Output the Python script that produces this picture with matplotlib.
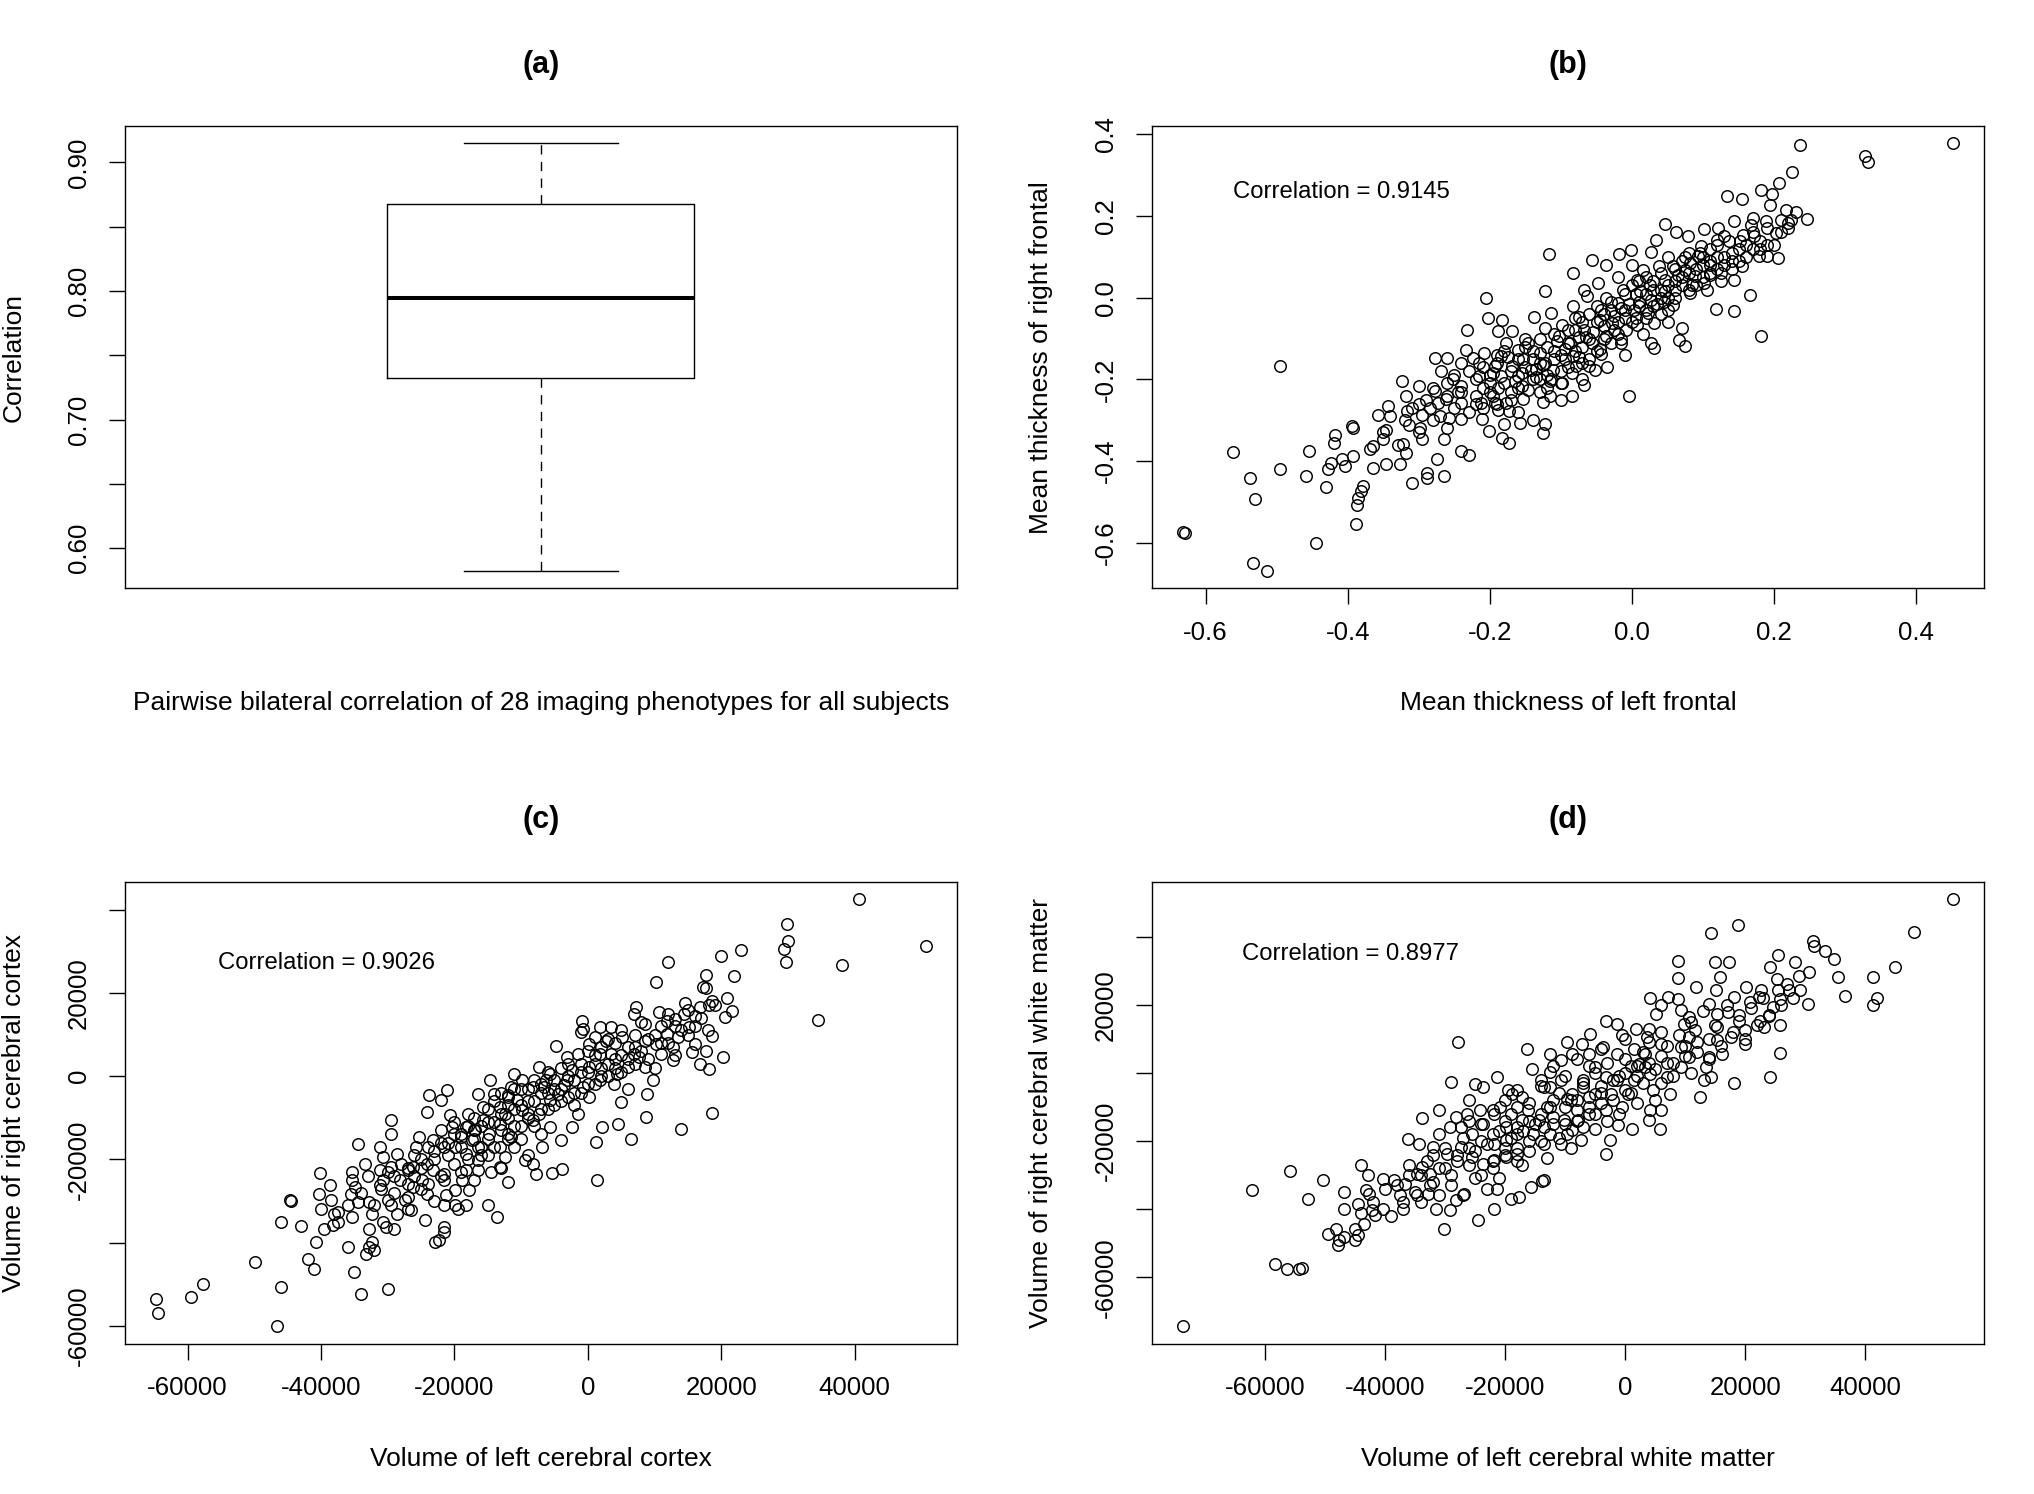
import matplotlib
matplotlib.use('Agg')
import matplotlib.pyplot as plt

plt.rcParams['font.family'] = ['Liberation Sans', 'DejaVu Sans']
plt.rcParams['axes.unicode_minus'] = False

# ---------------- data ----------------
# (a) boxplot summary of pairwise bilateral correlations
box_whislo = 0.5823
box_q1 = 0.7326
box_med = 0.7948
box_q3 = 0.8676
box_whishi = 0.9148
a_yticks = [0.60, 0.65, 0.70, 0.75, 0.80, 0.85, 0.90]
a_ylabels = ['0.60', '', '0.70', '', '0.80', '', '0.90']

# (b) mean thickness left vs right frontal  (x, y)
b_points = [
    (0.452,0.378),(0.236,0.374),(0.328,0.346),(0.332,0.333),(0.225,0.307),(0.207,0.280),(0.181,0.263),(0.197,0.254),(0.134,0.249),(0.154,0.241),
    (0.194,0.226),(0.217,0.215),(0.230,0.211),(0.246,0.192),(0.223,0.191),(0.220,0.183),(0.189,0.187),(0.170,0.195),(0.144,0.189),(0.203,0.158),
    (0.199,0.130),(0.205,0.097),(0.190,0.101),(0.178,0.101),(0.172,0.150),(0.152,0.138),(0.136,0.138),(0.046,0.181),(0.101,0.169),(0.078,0.150),
    (0.062,0.162),(0.119,0.142),(0.097,0.126),(0.034,0.142),(0.027,0.113),(0.154,0.077),(0.140,0.070),(0.125,0.060),(0.166,0.007),(0.118,-0.028),
    (0.182,-0.093),(0.143,-0.033),(0.101,0.036),(0.109,0.089),(0.082,0.085),(0.074,0.068),(-0.117,0.108),(-0.057,0.093),(-0.083,0.060),(-0.018,0.108),
    (-0.001,0.117),(-0.036,0.081),(-0.205,-0.001),(-0.122,0.016),(-0.232,-0.078),(-0.495,-0.166),(-0.561,-0.378),(-0.538,-0.442),(-0.530,-0.494),(-0.496,-0.420),
    (-0.455,-0.376),(-0.459,-0.437),(-0.430,-0.463),(-0.445,-0.600),(-0.632,-0.574),(-0.629,-0.576),(-0.534,-0.649),(-0.514,-0.669),(-0.389,-0.555),(-0.387,-0.508),
    (-0.385,-0.490),(-0.382,-0.473),(-0.379,-0.461),(-0.310,-0.453),(-0.289,-0.441),(-0.288,-0.429),(-0.265,-0.437),(-0.275,-0.396),(-0.230,-0.384),(-0.240,-0.376),
    (-0.005,-0.240),(-0.085,-0.241),(-0.125,-0.256),(-0.158,-0.306),(-0.122,-0.310),(-0.125,-0.331),(-0.173,-0.355),(-0.183,-0.343),(-0.201,-0.327),(-0.265,-0.347),
    (-0.295,-0.347),(-0.318,-0.380),(-0.322,-0.359),(-0.346,-0.408),(-0.365,-0.416),(-0.326,-0.408),(-0.404,-0.412),(-0.408,-0.396),(-0.393,-0.388),(-0.428,-0.420),
    (-0.424,-0.404),(-0.420,-0.355),(-0.418,-0.335),(-0.393,-0.319),(-0.394,-0.315),(-0.369,-0.371),(-0.365,-0.363),(-0.350,-0.347),(-0.346,-0.323),(-0.357,-0.286),
    (-0.344,-0.266),(-0.324,-0.204),(-0.300,-0.217),(-0.318,-0.241),(-0.316,-0.278),(-0.314,-0.311),(-0.299,-0.319),(-0.295,-0.286),(-0.277,-0.229),(-0.262,-0.249),
    (-0.273,-0.257),(-0.277,-0.147),(-0.261,-0.147),(-0.269,-0.180),(-0.252,-0.200),(-0.240,-0.217),(-0.240,-0.257),(-0.240,-0.298),(-0.257,-0.294),(-0.234,-0.127),
    (-0.224,-0.147),(-0.208,-0.135),(-0.216,-0.192),(-0.212,-0.257),(-0.211,-0.298),(-0.193,-0.257),(-0.189,-0.274),(-0.177,-0.257),(-0.173,-0.278),(-0.154,-0.249),
    (-0.146,-0.225),(-0.189,-0.221),(-0.185,-0.192),(-0.193,-0.168),(-0.169,-0.168),(-0.161,-0.192),(-0.203,-0.050),(-0.183,-0.055),(-0.189,-0.082),(-0.169,-0.082),
    (-0.177,-0.111),(-0.185,-0.143),(-0.161,-0.127),(-0.154,-0.151),(-0.142,-0.176),(-0.130,-0.200),(-0.114,-0.200),(-0.099,-0.208),(-0.111,-0.176),(-0.122,-0.160),
    (-0.130,-0.135),(-0.146,-0.111),(-0.138,-0.046),(-0.114,-0.037),(-0.122,-0.074),(-0.103,-0.094),(-0.099,-0.066),(-0.087,-0.111),(-0.083,-0.143),(-0.079,-0.168),
    (-0.060,-0.168),(-0.067,-0.213),(-0.052,-0.176),(-0.044,-0.139),(-0.056,-0.111),(-0.067,-0.078),(-0.075,-0.046),(-0.083,-0.021),(-0.063,0.003),(-0.067,0.020),
    (-0.048,0.036),(-0.036,-0.001),(-0.044,-0.029),(-0.028,-0.062),(-0.036,-0.094),(-0.016,-0.111),(-0.009,-0.078),(0.007,-0.066),(0.003,-0.029),(-0.020,-0.013),
    (-0.013,0.020),(0.007,0.044),(0.015,0.069),(0.011,0.016),(0.027,-0.005),(0.023,-0.037),(0.031,-0.062),(0.027,-0.111),(0.031,-0.123),(0.066,-0.103),
    (0.070,-0.074),(0.074,-0.119),(0.058,-0.017),(0.046,0.016),(0.046,0.044),(0.038,0.077),(0.058,0.077),(0.070,0.032),(0.082,0.011),(0.089,0.052),
    (0.093,0.101),(0.109,0.056),(0.125,0.040),(0.105,0.020),(0.144,0.044),(0.121,0.170),(0.168,0.179),(0.156,0.154),
    (-0.150,-0.120),(-0.140,-0.150),(-0.110,-0.130),(-0.090,-0.080),(-0.070,-0.120),(-0.050,-0.060),(-0.030,-0.030),(-0.010,-0.050),(0.010,-0.010),(0.030,0.020),
    (0.050,0.000),(-0.060,-0.150),(-0.100,-0.180),(-0.120,-0.220),(-0.170,-0.230),(-0.200,-0.210),(-0.220,-0.240),(-0.250,-0.270),(-0.280,-0.300),(-0.300,-0.260),
    (-0.160,-0.280),(-0.130,-0.100),(-0.080,-0.050),(-0.040,-0.100),(0.020,0.050),(0.060,0.040),(0.080,0.060),(0.100,0.080),(0.120,0.100),(0.140,0.110),
    (0.160,0.130),(0.180,0.140),(0.110,0.060),(0.130,0.080),(0.050,0.100),(0.000,0.080),(-0.020,0.050),(0.040,-0.040),(-0.190,-0.140),(-0.230,-0.180),
    (-0.260,-0.210),(-0.210,-0.270),(-0.180,-0.310),(-0.140,-0.300),(-0.100,-0.250),(-0.070,-0.200),(-0.035,-0.170),(-0.010,-0.140),(0.015,-0.090),(0.050,-0.060),
    (-0.155,-0.185),(-0.125,-0.165),(-0.095,-0.150),(-0.105,-0.105),(-0.075,-0.095),(-0.055,-0.085),(-0.025,-0.080),(-0.005,-0.015),(0.020,-0.030),(0.040,0.000),
    (0.060,0.020),(0.085,0.030),(0.095,0.110),(0.075,0.100),(0.150,0.090),(0.170,0.120),(0.210,0.160),(0.190,0.130),(-0.215,-0.160),(-0.195,-0.240),
    (-0.165,-0.205),(-0.135,-0.195),(-0.115,-0.240),(-0.085,-0.185),(-0.045,-0.125),(-0.015,-0.100),(0.005,-0.050),(0.035,-0.015),(-0.285,-0.270),(-0.245,-0.230),
    (-0.32,-0.30),(-0.31,-0.27),(-0.29,-0.25),(-0.27,-0.29),(-0.26,-0.24),(-0.25,-0.19),(-0.24,-0.23),(-0.23,-0.28),(-0.22,-0.20),(-0.21,-0.17),
    (-0.20,-0.23),(-0.20,-0.19),(-0.19,-0.16),(-0.19,-0.26),(-0.18,-0.21),(-0.18,-0.13),(-0.17,-0.18),(-0.17,-0.25),(-0.16,-0.15),(-0.16,-0.22),
    (-0.15,-0.17),(-0.15,-0.10),(-0.14,-0.20),(-0.14,-0.13),(-0.13,-0.16),(-0.13,-0.23),(-0.12,-0.12),(-0.12,-0.19),(-0.11,-0.15),(-0.11,-0.09),
    (-0.10,-0.14),(-0.10,-0.21),(-0.09,-0.11),(-0.09,-0.17),(-0.08,-0.08),(-0.08,-0.13),(-0.07,-0.16),(-0.07,-0.06),(-0.06,-0.10),(-0.06,-0.04),
    (-0.05,-0.13),(-0.05,-0.02),(-0.04,-0.07),(-0.04,-0.04),(-0.03,-0.11),(-0.03,-0.01),(-0.02,-0.06),(-0.02,-0.09),(-0.01,-0.03),(-0.01,0.01),
    (0.00,-0.06),(0.00,0.03),(0.01,-0.02),(0.01,0.04),(0.02,0.01),(0.02,-0.05),(0.03,0.04),(0.03,-0.02),(0.04,0.06),(0.04,0.02),
    (0.05,0.03),(0.05,-0.03),(0.06,0.07),(0.06,0.00),(0.07,0.05),(0.07,0.09),(0.08,0.02),(0.08,0.11),(0.09,0.07),(0.09,0.03),
    (0.10,0.10),(0.10,0.05),(0.11,0.12),(0.11,0.08),(0.12,0.07),(0.12,0.13),(0.13,0.10),(0.13,0.15),(0.14,0.09),(0.15,0.12),
    (0.16,0.10),(0.17,0.16),(0.18,0.12),(0.19,0.17),(0.21,0.19),(0.22,0.17),(-0.35,-0.33),(-0.34,-0.29),(-0.33,-0.36),(-0.30,-0.33),
    (-0.28,-0.22),(-0.26,-0.32),(-0.24,-0.16),(-0.22,-0.26),(-0.21,-0.22),(-0.195,-0.185),(-0.175,-0.145),(-0.155,-0.215),(-0.135,-0.175),(-0.115,-0.205),
    (-0.095,-0.125),(-0.075,-0.145),(-0.065,-0.095),(-0.045,-0.055),(-0.025,-0.045),(-0.015,-0.025),(0.005,0.010),(0.025,0.030),(0.045,-0.010),(0.065,0.055),
]
b_xticks = [-0.6, -0.4, -0.2, 0.0, 0.2, 0.4]
b_xlabels = ['-0.6', '-0.4', '-0.2', '0.0', '0.2', '0.4']
b_yticks = [-0.6, -0.4, -0.2, 0.0, 0.2, 0.4]
b_ylabels = ['-0.6', '-0.4', '-0.2', '0.0', '0.2', '0.4']

# (c) volume of left vs right cerebral cortex (x, y)
c_points = [
    (40660,42560),(29810,36560),(30060,32560),(29390,30560),(29640,27360),(50680,31200),(38160,26720),(34570,13520),(22960,30400),(19960,28960),
    (12020,27360),(17700,24320),(21880,24000),(10190,22560),(17280,21520),(17700,21200),(20880,18800),(18540,18160),(18120,17200),(21630,15760),
    (14610,17520),(16870,16560),(16030,14560),(20620,14160),(7260,16560),(10600,15360),(6850,14960),(13110,13760),(11860,13360),(14360,14960),
    (-840,13200),(1840,11760),(18540,9760),(16030,7760),(17700,6160),(20210,4560),(16870,2960),(18120,1760),(15610,5760),(12690,3760),
    (12690,6960),(10190,7760),(9770,-1040),(8930,-4240),(8770,-9840),(18540,-8880),(13940,-12640),(6430,-15040),(4510,-11440),(2090,-12240),
    (1250,-15840),(1420,-25040),(5010,-6240),(3920,-1840),(6010,2160),(7680,4560),(8520,8560),(5180,9360),(2670,8560),(170,7760),
    (-1090,10560),(-4840,7360),(-3170,4560),(-7350,2160),(-2340,1360),(170,2160),(-670,-2640),(1840,-1040),(170,-5040),(-1500,-9040),
    (-2340,-12240),(-4010,-15440),(-3840,-22240),(-5430,-23280),(-6930,-17040),(-8180,-21040),(-7770,-23440),(-9440,-20240),(-5680,-12240),(-7350,-9040),
    (-9850,-8240),(-9850,-1040),(-11110,560),(-8180,-2640),(-6260,-1040),(-4430,-4240),(-5680,-5840),(-11940,-4640),(-12360,-9040),(-13190,-11440),
    (-11940,-13840),(-12360,-19440),(-13190,-21840),(-11940,-25440),(-13610,-33840),(-15030,-31040),(-14450,-23040),(-14610,-1040),(-16530,-4240),(-15700,-7440),
    (-15700,-10640),(-16950,-13040),(-16530,-17040),(-16530,-20240),(-18200,-22640),(-18870,-25040),(-17790,-27440),(-18200,-31040),(-19870,-31040),(-19460,-31840),
    (-21540,-31040),(-21290,-28640),(-21540,-36240),(-21540,-37440),(-22380,-39440),(-22960,-39840),(-24470,-34640),(-21130,-3440),(-23800,-4480),(-21960,-5840),
    (-24050,-8640),(-20710,-9440),(-20290,-12240),(-19040,-14640),(-17370,-15440),(-21540,-17040),(-23210,-15440),(-25300,-14640),(-25720,-17040),(-24050,-21040),
    (-23210,-22640),(-21540,-23440),(-24880,-25040),(-24050,-28240),(-26140,-26640),(-28220,-25040),(-26970,-22640),(-28640,-18640),(-29480,-10640),(-29480,-13840),
    (-31150,-17040),(-30730,-19440),(-29480,-21840),(-31150,-22640),(-30730,-25040),(-31150,-26240),(-29890,-29840),(-29480,-31040),(-28640,-33040),(-26970,-31840),
    (-27390,-29840),(-26550,-32240),(-30730,-35040),(-30310,-36240),(-29060,-36640),(-32400,-39840),(-32820,-36640),(-32820,-41040),(-33230,-42640),(-31980,-41840),
    (-34070,-52240),(-29890,-51040),(-35070,-47040),(-35990,-41040),(-34490,-16240),(-33400,-21040),(-35320,-23040),(-35320,-25040),(-34900,-26640),(-35570,-28240),
    (-34490,-30240),(-32820,-30240),(-32400,-33040),(-35320,-33840),(-37410,-32640),(-37410,-35040),(-38240,-35840),(-39500,-36640),(-40080,-23280),(-38660,-26240),
    (-40330,-28240),(-38490,-29840),(-44670,-29840),(-44510,-30000),(-45930,-35040),(-43000,-36080),(-40750,-39840),(-42000,-43840),(-41000,-46240),(-49930,-44640),
    (-45930,-50640),(-46590,-60080),(-57620,-50000),(-59540,-53040),(-64800,-53440),(-64380,-56880),(-670,11360),(1000,9360),(-5680,560),(-3590,-2240),
    (-6510,-2640),(-11520,-2640),(-14030,-4240),(-13190,-7440),(-10690,-5840),(-9020,-9040),(-14860,-13840),(-18200,-12240),(-19870,-17040),(-18200,-18640),
    (-13190,-17040),(-11520,-14640),(3500,5360),(6850,5360),(8520,2160),(11020,5360),(13530,9360),(15200,11760),(11860,10160),(8520,12560),
    (3500,11760),(4340,560),(1840,5360),(-1500,5360),(-3170,-1040),(-8180,-10640),(-16530,-22640),(-26140,-21840),(-21540,-25040),(-19870,-27440),
    (-9000,-6000),(-7000,-4000),(-5000,-3000),(-3000,0),(-1000,1000),(1000,3000),(3000,3000),(5000,5000),(7000,7000),(9000,9000),
    (-11000,-8000),(-13000,-9000),(-15000,-11000),(-17000,-13000),(-19000,-14000),(-21000,-16000),(-23000,-18000),(-25000,-20000),(-27000,-22000),(-29000,-24000),
    (-10000,-12000),(-12000,-15000),(-14000,-17000),(-16000,-19000),(-6000,-8000),(-4000,-6000),(-2000,-4000),(0,-2000),(2000,0),(4000,2000),
    (6000,4000),(11000,8000),(13000,12000),(15000,10000),(-8000,-1000),(-10000,-3000),(-12000,-5000),(-18000,-9000),(-20000,-11000),(-22000,-13000),
    (-34000,-28000),(-33000,-24000),(-32000,-31000),(-31000,-27000),(-30000,-23000),(-29000,-28000),(-28000,-21000),(-27000,-26000),(-26000,-19000),(-26000,-24000),
    (-25000,-22000),(-24000,-17000),(-24000,-26000),(-23000,-20000),(-22000,-16000),(-22000,-24000),(-21000,-19000),(-20000,-14000),(-20000,-21000),(-19000,-17000),
    (-18000,-12000),(-18000,-20000),(-17000,-15000),(-17000,-10000),(-16000,-17000),(-16000,-12000),(-15000,-8000),(-15000,-15000),(-14000,-11000),(-14000,-6000),
    (-13000,-13000),(-13000,-4000),(-12000,-10000),(-12000,-7000),(-11000,-12000),(-11000,-3000),(-10000,-7000),(-10000,-15000),(-9000,-10000),(-9000,-3000),
    (-8000,-6000),(-8000,-12000),(-7000,-2000),(-7000,-8000),(-6000,-4000),(-6000,1000),(-5000,-7000),(-5000,-1000),(-4000,-3000),(-4000,2000),
    (-3000,-5000),(-3000,3000),(-2000,-1000),(-2000,-7000),(-1000,3000),(-1000,-4000),(0,1000),(0,6000),(1000,-2000),(1000,5000),
    (2000,2000),(2000,7000),(3000,0),(3000,9000),(4000,4000),(4000,8000),(5000,1000),(5000,11000),(6000,7000),(6000,-3000),
    (7000,10000),(7000,3000),(8000,6000),(8000,13000),(9000,4000),(10000,10000),(10000,2000),(11000,12000),(12000,8000),(12000,15000),
    (13000,5000),(14000,11000),(15000,16000),(16000,12000),(17000,14000),(18000,11000),(19000,17000),(-36000,-31000),(-38000,-33000),(-40000,-32000),
    (-27000,-29000),(-25000,-27000),(-23000,-30000),(-19000,-23000),(-17000,-25000),(-15000,-19000),(-13000,-22000),(-11000,-17000),(-9000,-19000),(-7000,-14000),
]
c_xticks = [-60000, -40000, -20000, 0, 20000, 40000]
c_xlabels = ['-60000', '-40000', '-20000', '0', '20000', '40000']
c_yticks = [-60000, -40000, -20000, 0, 20000, 40000]
c_ylabels = ['-60000', '', '-20000', '0', '20000', '']

# (d) volume of left vs right cerebral white matter (x, y)
d_points = [
    (54630,51050),(48150,41270),(18710,43520),(14350,40980),(31210,38830),(31480,37360),(33340,35890),(34730,33450),(44910,31000),(41210,28070),
    (35470,28070),(36580,22400),(41950,22010),(41210,19760),(25470,34720),(24080,31200),(28240,32470),(30560,29540),(25280,27580),(28980,28360),
    (29170,24160),(27320,24160),(25470,24160),(30370,20050),(25740,21710),(24540,19270),(23890,16820),(25740,13890),(22500,15350),(23150,13400),
    (25740,5770),(24080,-1270),(18060,-2930),(8800,32960),(15000,32470),(17320,32470),(8800,27870),(15740,28070),(11760,25130),(20190,25130),
    (22690,24160),(22220,22200),(20840,20730),(15090,24160),(18060,22200),(4170,21910),(7130,22200),(8800,21710),(6020,19760),(5090,17310),
    (9260,18290),(10650,16330),(13890,20240),(15280,17310),(17130,17800),(19000,15350),(19920,12420),(17590,10470),(19920,8510),(15280,9490),
    (11580,12420),(16200,5570),(13890,4600),(13430,1660),(12500,-7140),(14350,-1270),(13060,-2250),(9260,1660),(10650,4600),(9260,7530),
    (6020,8510),(3700,10470),(1850,12910),(-460,10960),(-3240,15350),(-1390,14380),(-5830,11440),(-9720,8990),(-7130,8510),(-3700,7530),
    (1390,7040),(3240,5570),(2320,2640),(4170,-290),(6950,-1270),(7410,-6160),(4630,-5180),(4170,-11050),(6020,-11050),(3890,-13980),
    (5830,-16430),(1200,-16430),(-1200,-15450),(-2500,-19850),(-3240,-23770),(-5090,-16430),(-7410,-19850),(-8800,-16720),(-10190,-13980),(-7870,-13980),
    (-6020,-12030),(-3240,-11050),(-460,-10070),(460,-6160),(-1390,-2250),(-3240,-1270),(-5090,1660),(-6950,-2250),(-8800,-6160),(-10650,-2250),
    (-12500,200),(-13430,-4200),(-15460,1170),(-16390,7040),(-12500,5570),(-10650,3620),(-8800,5570),(-9720,-7630),(-12500,-10070),(-14350,-13980),
    (-12500,-17900),(-10650,-20830),(-13430,-20830),(-15280,-17900),(-17130,-13980),(-18060,-10070),(-19450,-5180),(-18800,-6160),(-21300,-1270),(-23610,-4200),
    (-25000,-3230),(-25930,-8120),(-24080,-11050),(-21760,-12030),(-19910,-15940),(-18060,-17900),(-19910,-19850),(-21760,-20830),(-25470,-17900),(-27320,-15940),
    (-27780,8990),(-28980,-2740),(-28240,-13010),(-29170,-15940),(-31020,-17900),(-33800,-13200),(-31020,-11050),(-36110,-19360),(-34260,-20830),(-31950,-21810),
    (-29630,-23770),(-27320,-21810),(-25470,-24740),(-23610,-26700),(-21760,-25720),(-19910,-24740),(-18060,-23770),(-17130,-27190),(-21300,-34030),(-18990,-36970),
    (-17590,-36480),(-21760,-39900),(-24540,-43320),(-13890,-31780),(-13430,-31590),(-15740,-33550),(-26850,-35500),(-28240,-37460),(-29170,-40390),(-30090,-45770),
    (-31480,-39900),(-32870,-35500),(-32410,-33060),(-32410,-29640),(-33800,-27680),(-34730,-29640),(-37040,-37950),(-37500,-35990),(-36580,-32570),(-34730,-35990),
    (-38430,-31590),(-40280,-31100),(-42590,-35500),(-43060,-34520),(-42780,-30130),(-43980,-27190),(-40280,-39900),(-41670,-41860),(-43520,-44300),(-44450,-47730),
    (-44910,-49000),(-46760,-48210),(-47690,-49190),(-47870,-50660),(-49540,-47240),(-48150,-45770),(-46760,-39900),(-46760,-35010),(-50280,-31590),(-52780,-36970),
    (-55840,-28950),(-62040,-34520),(-58340,-56240),(-56210,-57510),(-54360,-57510),(-53710,-57220),(-73620,-74430),(-44910,-45770),(-44450,-38440),(-42130,-40390),
    (-6950,-4200),(-5090,-6160),(-2320,-6160),(1390,-2250),(3240,1660),(-1390,5570),(-6020,5570),(-17130,-7140),(-20840,-10070),(-16210,-11050),
    (-13430,-15940),(-9720,-17900),(-23610,-14960),(-26390,-12030),(-12500,-4200),(10650,10470),(15280,13400),(9720,14380),
    (-8000,-8000),(-6000,-10000),(-4000,-4000),(-2000,-2000),(0,0),(2000,-1000),(4000,3000),(6000,5000),(8000,3000),(10000,8000),
    (-10000,-10000),(-12000,-8000),(-14000,-12000),(-16000,-14000),(-18000,-16000),(-20000,-14000),(-22000,-18000),(-24000,-20000),(-26000,-22000),(-28000,-26000),
    (-12000,-15000),(-16000,-20000),(-20000,-22000),(-8000,-14000),(-4000,-9000),(0,-5000),(2000,2000),(6000,-3000),(12000,6000),(14000,10000),
    (-30000,-28000),(-32000,-24000),(-34000,-30000),(-36000,-27000),(-24000,-30000),(-22000,-26000),(-18000,-22000),(-14000,-4000),(-10000,-1000),(-6000,2000),
    (-38000,-33000),(-36000,-30000),(-35000,-35000),(-33000,-26000),(-32000,-32000),(-31000,-28000),(-30000,-22000),(-29000,-30000),(-28000,-24000),(-27000,-19000),
    (-26000,-27000),(-25000,-23000),(-24000,-15000),(-23000,-21000),(-22000,-28000),(-21000,-17000),(-20000,-24000),(-19000,-12000),(-19000,-19000),(-18000,-26000),
    (-17000,-17000),(-16000,-9000),(-16000,-23000),(-15000,-15000),(-14000,-20000),(-13000,-10000),(-13000,-25000),(-12000,-13000),(-11000,-6000),(-11000,-19000),
    (-10000,-15000),(-9000,-8000),(-9000,-22000),(-8000,-11000),(-7000,-3000),(-7000,-16000),(-6000,-7000),(-5000,-12000),(-5000,0),(-4000,-6000),
    (-3000,-14000),(-3000,3000),(-2000,-8000),(-1000,-1000),(-1000,-12000),(0,4000),(1000,-6000),(1000,2000),(2000,-9000),(3000,6000),
    (3000,-3000),(4000,9000),(5000,1000),(5000,-8000),(6000,12000),(7000,3000),(7000,8000),(8000,-1000),(9000,11000),(10000,5000),
    (11000,15000),(11000,0),(12000,9000),(13000,18000),(14000,4000),(15000,14000),(16000,8000),(17000,20000),(18000,12000),(19000,17000),
    (20000,10000),(21000,19000),(22000,14000),(23000,22000),(24000,17000),(26000,20000),(27000,26000),(28000,22000),(-42000,-38000),(-40000,-34000),
    (-44000,-41000),(-39000,-42000),(-37000,-40000),(-34000,-38000),(-31000,-36000),(-29000,-33000),(-27000,-36000),(-25000,-31000),(-23000,-34000),(-21000,-31000),
    (-20000,-8000),(-18000,-5000),(-22000,-11000),(-26000,-14000),(-14000,-2000),(-12000,2000),(-8000,4000),(-4000,7000),(0,10000),(4000,13000),
]
d_xticks = [-60000, -40000, -20000, 0, 20000, 40000]
d_xlabels = ['-60000', '-40000', '-20000', '0', '20000', '40000']
d_yticks = [-60000, -40000, -20000, 0, 20000, 40000]
d_ylabels = ['-60000', '', '-20000', '', '20000', '']

titles = ['(a)', '(b)', '(c)', '(d)']
xlabels = ['Pairwise bilateral correlation of 28 imaging phenotypes for all subjects',
           'Mean thickness of left frontal',
           'Volume of left cerebral cortex',
           'Volume of left cerebral white matter']
ylabels = ['Correlation',
           'Mean thickness of right frontal',
           'Volume of right cerebral cortex',
           'Volume of right cerebral white matter']
corr_texts = ['Correlation = 0.9145', 'Correlation = 0.9026', 'Correlation = 0.8977']

# ---------------- style ----------------
TICK_FS = 18.6
LAB_FS = 19.0
TITLE_FS = 22
CORR_FS = 17.2


def rlim(vals):
    lo, hi = min(vals), max(vals)
    r = hi - lo
    return lo - 0.04 * r, hi + 0.04 * r


fig = plt.figure(figsize=(20.34, 14.94), dpi=100)
W = 0.4091
H = 0.3091
pos = [(0.0613, 0.6064), (0.5664, 0.6064), (0.0613, 0.1007), (0.5664, 0.1007)]
axes = [fig.add_axes([p[0], p[1], W, H]) for p in pos]


def style(ax, xt, xl, yt, yl):
    for s in ax.spines.values():
        s.set_linewidth(1.0)
    ax.tick_params(direction='out', length=11.5, width=1.0, labelsize=TICK_FS, color='black')
    ax.tick_params(axis='x', pad=12)
    ax.tick_params(axis='y', pad=13, labelrotation=90)
    if xt is None:
        ax.set_xticks([])
    else:
        ax.set_xticks(xt)
        ax.set_xticklabels(xl)
    ax.set_yticks(yt)
    ax.set_yticklabels(yl)
    for lab in ax.get_yticklabels():
        lab.set_va('center')
        lab.set_rotation(90)


for i, ax in enumerate(axes):
    ax.text(0.5, 1.133, titles[i], transform=ax.transAxes, ha='center', va='center',
            fontsize=TITLE_FS, fontweight='bold')
    ax.text(0.5, -0.249, xlabels[i], transform=ax.transAxes, ha='center', va='center',
            fontsize=LAB_FS)
    ax.text(-0.133, 0.5, ylabels[i], transform=ax.transAxes, ha='center', va='center',
            rotation=90, fontsize=LAB_FS)

# (a) boxplot
ax = axes[0]
stats = [dict(med=box_med, q1=box_q1, q3=box_q3, whislo=box_whislo, whishi=box_whishi, fliers=[])]
ax.bxp(stats, positions=[1.0], widths=0.369, capwidths=0.1845, showfliers=False,
       boxprops=dict(color='black', linewidth=1.0),
       medianprops=dict(color='black', linewidth=2.9, solid_capstyle='butt'),
       whiskerprops=dict(color='black', linewidth=1.0, linestyle=(0, (6.7, 5.3))),
       capprops=dict(color='black', linewidth=1.0))
ax.set_xlim(0.5, 1.5)
ax.set_ylim(*rlim([box_whislo, box_whishi]))
style(ax, None, None, a_yticks, a_ylabels)

# scatter panels
scatter_sets = [
    (axes[1], b_points, b_xticks, b_xlabels, b_yticks, b_ylabels, corr_texts[0], (0.227, 0.858)),
    (axes[2], c_points, c_xticks, c_xlabels, c_yticks, c_ylabels, corr_texts[1], (0.243, 0.824)),
    (axes[3], d_points, d_xticks, d_xlabels, d_yticks, d_ylabels, corr_texts[2], (0.2386, 0.844)),
]
for ax, pts, xt, xl, yt, yl, ctext, cpos in scatter_sets:
    xs = [p[0] for p in pts]
    ys = [p[1] for p in pts]
    ax.plot(xs, ys, linestyle='none', marker='o', markersize=8.3, markerfacecolor='none',
            markeredgecolor='black', markeredgewidth=1.05)
    ax.set_xlim(*rlim(xs))
    ax.set_ylim(*rlim(ys))
    style(ax, xt, xl, yt, yl)
    ax.text(cpos[0], cpos[1], ctext, transform=ax.transAxes, ha='center', va='center',
            fontsize=CORR_FS)

fig.savefig('out.png', dpi=100, facecolor='white')
